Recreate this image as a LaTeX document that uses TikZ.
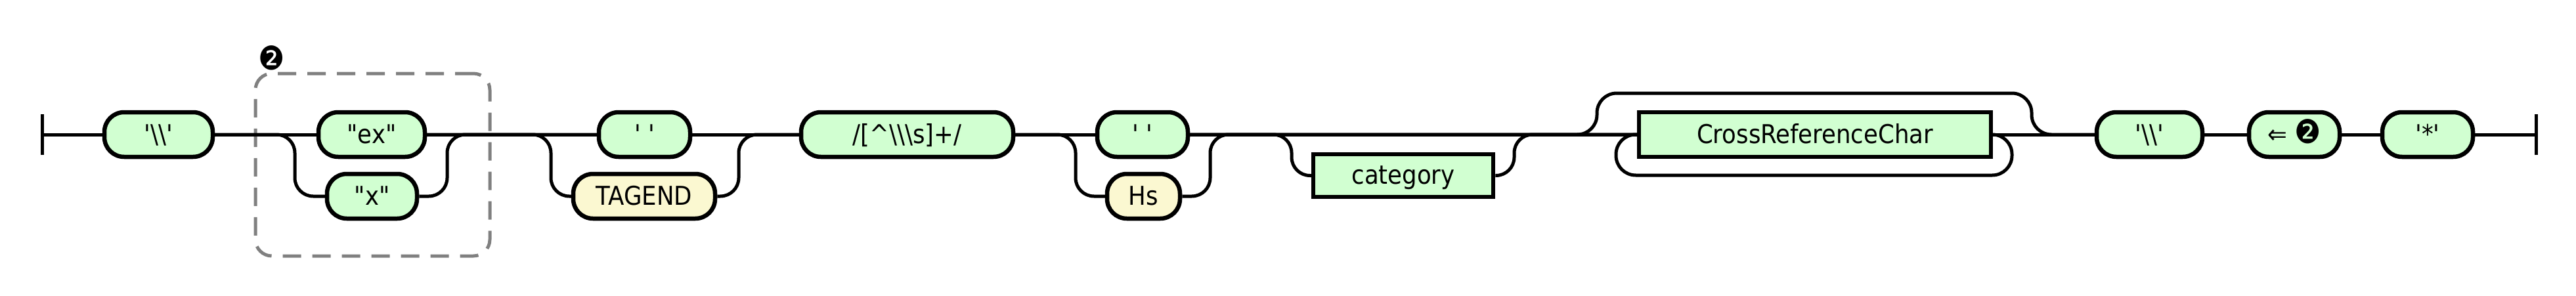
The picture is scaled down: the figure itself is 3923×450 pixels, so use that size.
\documentclass[tikz,border=0pt]{standalone}
\usepackage{fontspec}
\newfontfamily\railfont{DejaVu Sans Condensed}
\usetikzlibrary{calc}
\newcommand{\bigmark}{{\fontsize{50}{50}\selectfont ❷}}

\begin{document}
\begin{tikzpicture}[x=1pt, y=-1pt, line cap=butt,
  rail/.style={line width=5pt, line join=round},
  tokbox/.style={draw, line width=6.5pt, inner sep=0pt, minimum height=68pt,
    font=\railfont\fontsize{39.5}{44}\selectfont, text height=35pt, text depth=9pt},
  term/.style={tokbox, fill=termG, rounded corners=30pt},
  termY/.style={tokbox, fill=tokenY, rounded corners=30pt},
  nterm/.style={tokbox, fill=termG},
  grpbox/.style={draw=gray, line width=5pt, dash pattern=on 28pt off 17pt,
    rounded corners=25pt, inner sep=0pt}]
\colorlet{termG}{green!18!white}
\colorlet{tokenY}{yellow!17!white!98!black}
\useasboundingbox (0,0) rectangle (3923,450);
% ---- group 2 ----
\node[grpbox, minimum width=357pt, minimum height=278pt] (grp) at (567.5,251) {};
\node[font=\railfont, inner sep=0pt] (grpmark) at (414,88) {\bigmark};
% ---- tokens ----
\coordinate (begin) at (64,205);
\node[term, minimum width=165pt] (q1) at (241.5,205) {'\textbackslash\textbackslash'};
\node[term, minimum width=162pt] (ex) at (566,205) {"ex"};
\node[term, minimum width=137pt] (xx) at (566.5,299) {"x"};
\node[term, minimum width=139pt] (sp1) at (981.5,205) {' '};
\node[termY, minimum width=216pt] (tagend) at (981,299) {TAGEND};
\node[term, minimum width=323pt] (regex) at (1381.5,205)
  {/[\textasciicircum\textbackslash\textbackslash\textbackslash s]+/};
\node[term, minimum width=138pt] (sp2) at (1740,205) {' '};
\node[termY, minimum width=111pt] (hs) at (1741.5,299) {Hs};
\node[nterm, minimum width=274pt, minimum height=65pt] (cat) at (2137,267.5) {category};
\node[nterm, minimum width=536pt] (crc) at (2764,205) {CrossReferenceChar};
\node[term, minimum width=161pt] (q2) at (3273.5,205) {'\textbackslash\textbackslash'};
\node[term, minimum width=138pt] (back) at (3494,205) {⇐ \bigmark};
\node[term, minimum width=138pt] (star) at (3697,205) {'*'};
\coordinate (finish) at (3862,205);
% ---- turning points ----
\coordinate (exL) at (449,205);
\coordinate (exR) at (681,205);
\coordinate (tgL) at (839,205);
\coordinate (tgR) at (1125,205);
\coordinate (hsL) at (1638,205);
\coordinate (hsR) at (1843,205);
\coordinate (catL) at (1967,205);
\coordinate (catR) at (2306,205);
\coordinate (upL) at (2432,205);
\coordinate (upR) at (3094,142);
\coordinate (lpR) at (3064,205);
\coordinate (lpL) at (2461,267);
% ---- end bars ----
\draw[rail] ([yshift=-31pt]begin) -- ([yshift=31pt]begin);
\draw[rail] ([yshift=-31pt]finish) -- ([yshift=31pt]finish);
% ---- main line ----
\draw[rail] (begin) -- (q1.west);
\draw[rail] (q1.east) -- (ex.west);
\draw[rail] (ex.east) -- (sp1.west);
\draw[rail] (sp1.east) -- (regex.west);
\draw[rail] (regex.east) -- (sp2.west);
\draw[rail] (sp2.east) -- (crc.west);
\draw[rail] (crc.east) -- (q2.west);
\draw[rail] (q2.east) -- (back.west);
\draw[rail] (back.east) -- (star.west);
\draw[rail] (star.east) -- (finish);
% ---- choices ----
\draw[rail, rounded corners=28pt] (q1.east) -- (exL) |- (xx.west);
\draw[rail, rounded corners=28pt] (xx.east) -| (exR) -- (sp1.west);
\draw[rail, rounded corners=28pt] (ex.east) -- (tgL) |- (tagend.west);
\draw[rail, rounded corners=28pt] (tagend.east) -| (tgR) -- (regex.west);
\draw[rail, rounded corners=28pt] (regex.east) -- (hsL) |- (hs.west);
\draw[rail, rounded corners=28pt] (hs.east) -| (hsR) -- (crc.west);
% ---- optional category ----
\draw[rail, rounded corners=28pt] (sp2.east) -- (catL) |- (cat.west);
\draw[rail, rounded corners=28pt] (cat.east) -| (catR) -- (crc.west);
% ---- repeat / skip CrossReferenceChar ----
\draw[rail, rounded corners=30pt] (sp2.east) -- (upL) |- (upR) |- (q2.west);
\draw[rail, rounded corners=30pt] (crc.east) -- (lpR) |- (lpL) |- (crc.west);
\end{tikzpicture}
\end{document}
